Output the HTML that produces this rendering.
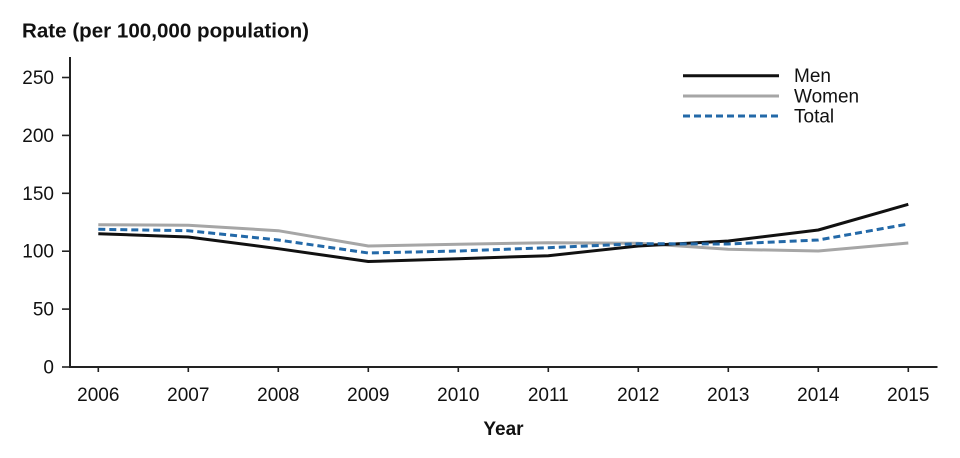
<!DOCTYPE html>
<html>
<head>
<meta charset="utf-8">
<style>
  html, body { margin: 0; padding: 0; background: #fff; }
  svg { display: block; }
  text { font-family: "Liberation Sans", sans-serif; fill: #111; }
</style>
</head>
<body>
<svg width="960" height="458" viewBox="0 0 960 458" xmlns="http://www.w3.org/2000/svg">
  <!-- Title -->
  <text x="22" y="37.5" font-size="20" font-weight="bold" textLength="287" lengthAdjust="spacingAndGlyphs">Rate (per 100,000 population)</text>

  <!-- Y axis -->
  <line x1="70" y1="57" x2="70" y2="368" stroke="#222" stroke-width="2"/>
  <g stroke="#222" stroke-width="1.6">
    <line x1="62" y1="367" x2="70" y2="367"/>
    <line x1="62" y1="309.1" x2="70" y2="309.1"/>
    <line x1="62" y1="251.2" x2="70" y2="251.2"/>
    <line x1="62" y1="193.3" x2="70" y2="193.3"/>
    <line x1="62" y1="135.4" x2="70" y2="135.4"/>
    <line x1="62" y1="77.5" x2="70" y2="77.5"/>
  </g>
  <g font-size="19" text-anchor="end">
    <text x="54" y="373.5">0</text>
    <text x="54" y="315.6">50</text>
    <text x="54" y="257.7">100</text>
    <text x="54" y="199.8">150</text>
    <text x="54" y="141.9">200</text>
    <text x="54" y="84">250</text>
  </g>

  <!-- X axis -->
  <line x1="69" y1="367" x2="937.5" y2="367" stroke="#222" stroke-width="2"/>
  <g stroke="#222" stroke-width="1.6">
    <line x1="98.3" y1="367" x2="98.3" y2="372"/>
    <line x1="188.3" y1="367" x2="188.3" y2="372"/>
    <line x1="278.3" y1="367" x2="278.3" y2="372"/>
    <line x1="368.3" y1="367" x2="368.3" y2="372"/>
    <line x1="458.3" y1="367" x2="458.3" y2="372"/>
    <line x1="548.3" y1="367" x2="548.3" y2="372"/>
    <line x1="638.3" y1="367" x2="638.3" y2="372"/>
    <line x1="728.3" y1="367" x2="728.3" y2="372"/>
    <line x1="818.3" y1="367" x2="818.3" y2="372"/>
    <line x1="908.3" y1="367" x2="908.3" y2="372"/>
  </g>
  <g font-size="19" text-anchor="middle">
    <text x="98.3" y="401">2006</text>
    <text x="188.3" y="401">2007</text>
    <text x="278.3" y="401">2008</text>
    <text x="368.3" y="401">2009</text>
    <text x="458.3" y="401">2010</text>
    <text x="548.3" y="401">2011</text>
    <text x="638.3" y="401">2012</text>
    <text x="728.3" y="401">2013</text>
    <text x="818.3" y="401">2014</text>
    <text x="908.3" y="401">2015</text>
  </g>
  <text x="503.5" y="435" font-size="19" font-weight="bold" text-anchor="middle">Year</text>

  <!-- Series -->
  <polyline fill="none" stroke="#a6a6a6" stroke-width="3" stroke-linejoin="round"
    points="98.3,224.7 188.3,225.3 278.3,230.7 368.3,246 458.3,244.3 548.3,242.7 638.3,243.3 728.3,249.3 818.3,251 908.3,243"/>
  <polyline fill="none" stroke="#111" stroke-width="3" stroke-linejoin="round"
    points="98.3,233.7 188.3,237 278.3,248.7 368.3,261.5 458.3,258.7 548.3,255.7 638.3,246 728.3,241 818.3,230 908.3,204.3"/>
  <polyline fill="none" stroke="#2369a8" stroke-width="3" stroke-dasharray="7,4" stroke-linejoin="round"
    points="98.3,229.3 188.3,230.7 278.3,240 368.3,253 458.3,251 548.3,247.7 638.3,243.7 728.3,244 818.3,240 908.3,224"/>

  <!-- Legend -->
  <line x1="683" y1="75.7" x2="779" y2="75.7" stroke="#111" stroke-width="3"/>
  <line x1="683" y1="96" x2="779" y2="96" stroke="#a6a6a6" stroke-width="3"/>
  <line x1="683" y1="116" x2="779" y2="116" stroke="#2369a8" stroke-width="3" stroke-dasharray="7,4"/>
  <g font-size="19">
    <text x="794" y="82">Men</text>
    <text x="794" y="102.5">Women</text>
    <text x="794" y="122.7">Total</text>
  </g>
</svg>
</body>
</html>
